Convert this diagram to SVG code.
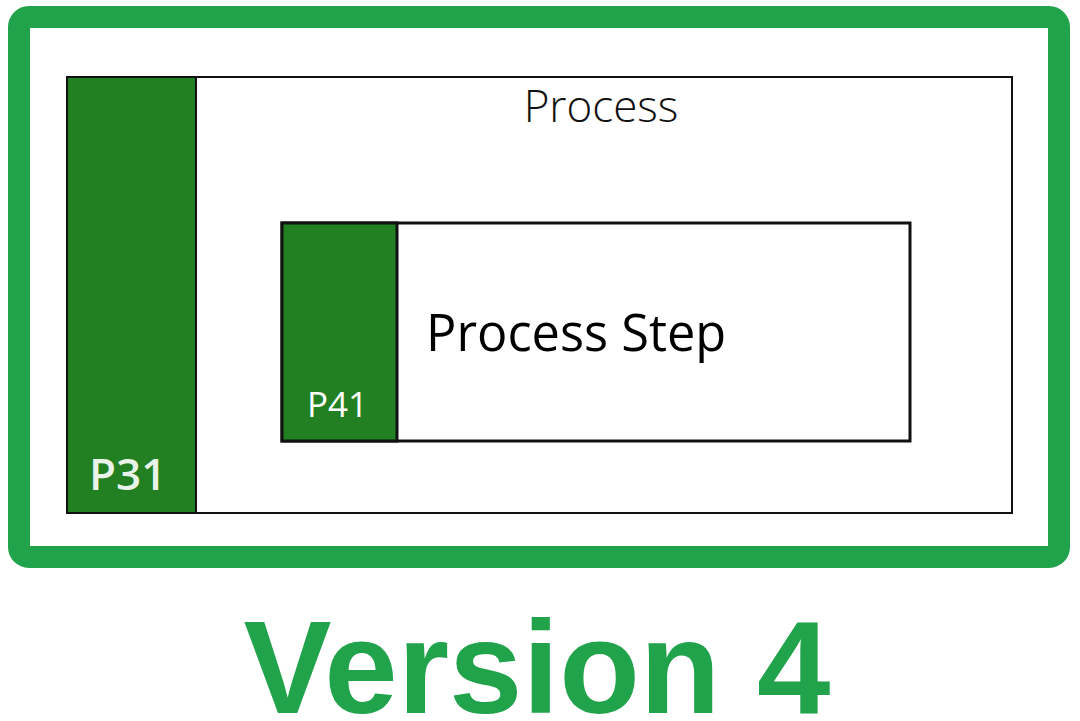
<svg xmlns="http://www.w3.org/2000/svg" width="1080" height="721" viewBox="0 0 1080 721">
<style>
.frame{fill:none;stroke:#21a34b;stroke-width:22}
.box{fill:#fff;stroke:#111;}
.bar{fill:#238022;stroke:#111;}
.lbl{font-family:"Open Sans","Noto Sans",sans-serif;fill:#fff}
</style>
<rect width="1080" height="721" fill="#fff"/>
<rect class="frame" x="19" y="17" width="1040" height="540" rx="10"/>
<g id="process">
<rect class="box" x="67" y="77" width="945" height="436" stroke-width="2"/>
<rect class="bar" x="67" y="77" width="129" height="436" stroke-width="2"/>
<text x="601" y="122" text-anchor="middle" font-family="Open Sans, sans-serif" font-weight="300" font-size="44" fill="#111">Process</text>
<text class="lbl" x="89" y="490" font-size="44" font-weight="600" fill-opacity="0.92">P31</text>
</g>
<g id="process-step">
<rect class="box" x="282" y="223" width="628" height="218" stroke-width="3"/>
<rect class="bar" x="282" y="223" width="115" height="218" stroke-width="3"/>
<text x="426" y="351" font-family="Open Sans, sans-serif" font-size="50.5" fill="#000">Process Step</text>
<text class="lbl" x="307" y="417" font-size="35">P41</text>
</g>
<g id="connectors"></g>
<text x="537" y="713" text-anchor="middle" font-family="Liberation Sans, Arial, sans-serif" font-weight="bold" font-size="132" fill="#21a34b">Version 4</text>
</svg>
